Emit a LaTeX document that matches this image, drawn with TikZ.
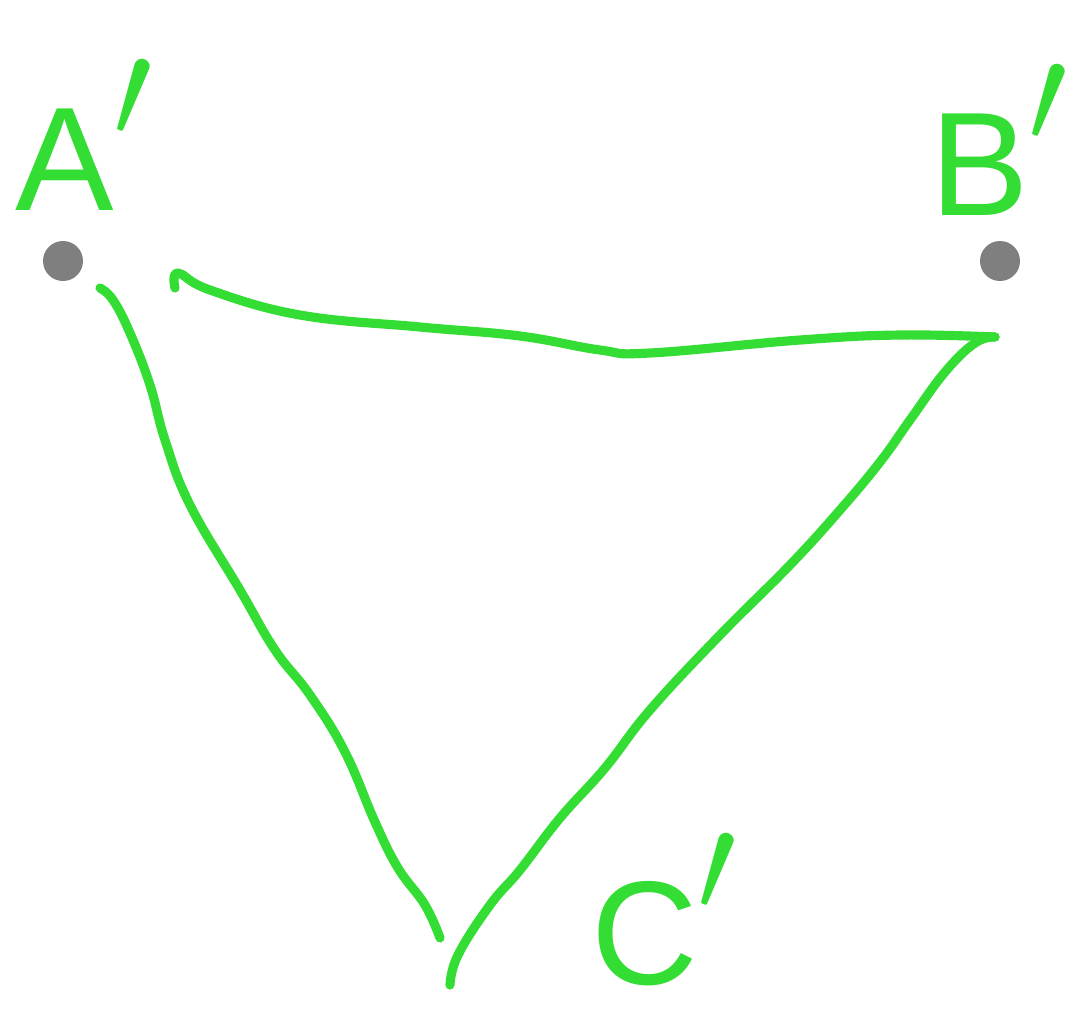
\documentclass[tikz,border=0pt]{standalone}
\usepackage{fontspec}
\setsansfont{Liberation Sans}
\usepackage{xcolor}
\usepackage{tikz}
\usetikzlibrary{positioning}
\definecolor{verde}{HTML}{33DD33}
\definecolor{gris}{HTML}{7F7F7F}
\newcommand{\prima}{\raisebox{0.15em}{\scalebox{1.6}{$'$}}}
\tikzset{
  punto/.style={circle,fill=gris,inner sep=0pt,minimum size=4mm},
  trazo/.style={verde,line width=2.6pt,line cap=round,line join=round},
  etiqueta/.style={verde,font=\sffamily\fontsize{42}{46}\selectfont,inner sep=0pt},
}

\begin{document}
\begin{tikzpicture}[x=0.01cm,y=-0.01cm]
  \useasboundingbox (0,0) rectangle (1090,1017);
  % puntos
  \node[punto] (pA) at (63,261) {};
  \node[punto] (pB) at (1000,261) {};
  % etiquetas
  \node[etiqueta] (lA) at (85,135) {A\prima};
  \node[etiqueta] (lB) at (1000,140) {B\prima};
  \node[etiqueta] (lC) at (665,910) {C\prima};
  % lados del triangulo
  \draw[trazo] plot[smooth,tension=0.7] coordinates {(175,288) (178,273) (210,290) (300,315) (420,327) (520,336) (600,350) (650,353) (800,340) (900,335) (995,337)};
  \draw[trazo] plot[smooth,tension=0.7] coordinates {(995,337) (975,343) (945,372) (910,420) (880,462) (840,510) (790,565) (720,635) (650,710) (605,768) (560,818) (520,870) (490,905) (458,955) (450,985)};
  \draw[trazo] plot[smooth,tension=0.7] coordinates {(100,288) (113,300) (130,333) (150,385) (165,440) (190,505) (240,590) (275,650) (310,695) (345,752) (375,822) (398,868) (425,905) (440,938)};
\end{tikzpicture}
\end{document}
